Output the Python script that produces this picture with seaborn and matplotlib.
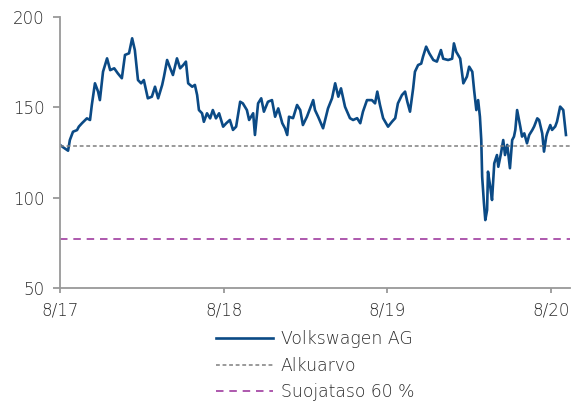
import numpy as np
import pandas as pd
import matplotlib
matplotlib.use("Agg")
import matplotlib.pyplot as plt
import seaborn as sns

# ---- data ----
start_date = "2017-08-01"
day_offsets = [0, 7, 18, 22, 29, 38, 42, 49, 60, 67, 71, 78, 85, 89, 96, 105, 112, 121, 129, 138,
               145, 154, 161, 167, 174, 181, 187, 196, 205, 212, 219, 228, 232, 239, 246, 252, 261, 268, 275, 281,
               286, 295, 301, 306, 310, 317, 321, 328, 335, 341, 348, 355, 364, 371, 379, 386, 393, 402, 408, 417,
               422, 431, 435, 442, 449, 455, 464, 473, 480, 487, 496, 502, 507, 511, 520, 529, 536, 542, 551, 565,
               569, 576, 587, 598, 607, 614, 621, 627, 636, 647, 654, 663, 670, 676, 685, 696, 703, 708, 714, 721,
               732, 741, 748, 754, 763, 770, 775, 781, 788, 792, 799, 806, 810, 817, 824, 833, 841, 850, 855, 866,
               875, 879, 884, 893, 900, 908, 913, 920, 924, 929, 933, 937, 940, 942, 946, 949, 953, 955, 960, 964,
               969, 975, 978, 984, 989, 993, 998, 1004, 1009, 1013, 1016, 1020, 1027, 1031, 1036, 1042, 1047, 1054,
               1058, 1065, 1069, 1076, 1080, 1085, 1087, 1094, 1098, 1105, 1109, 1116, 1123, 1129, 1134]
vw_values = [129.2, 127.9, 126.0, 131.9, 136.5, 137.4, 139.3, 141.2, 143.9, 143.0,
             151.3, 163.3, 158.7, 154.0, 169.7, 177.1, 170.6, 171.6, 168.8, 166.1,
             179.0, 179.9, 188.2, 181.7, 165.1, 163.3, 165.1, 155.0, 155.9, 161.4,
             155.0, 162.4, 167.0, 176.2, 171.6, 167.9, 177.1, 171.6, 173.4, 175.3,
             163.3, 161.4, 162.4, 156.8, 148.5, 146.7, 142.0, 146.7, 143.9, 148.5,
             143.9, 146.7, 139.3, 141.2, 143.0, 137.5, 139.3, 153.1, 152.2, 148.5,
             143.0, 146.7, 134.7, 152.2, 155.0, 147.6, 153.1, 154.0, 144.8, 149.4,
             141.2, 138.4, 134.7, 144.8, 144.0, 151.3, 148.5, 140.2, 144.8, 154.0,
             148.5, 144.8, 138.4, 149.4, 155.0, 163.3, 155.9, 160.5, 150.3, 144.0,
             143.0, 144.0, 141.2, 147.6, 154.0, 154.0, 152.2, 158.7, 151.3, 144.0,
             139.3, 142.1, 144.0, 152.2, 156.8, 158.7, 153.1, 147.6, 160.5, 169.7,
             173.4, 174.2, 178.0, 183.6, 179.9, 176.2, 175.3, 181.7, 176.9, 176.2,
             176.9, 185.4, 180.8, 177.0, 163.3, 167.0, 172.5, 169.7, 159.6, 148.5,
             154.0, 144.8, 131.9, 111.6, 96.9, 87.6, 93.2, 114.4, 106.1, 98.7,
             119.0, 123.6, 117.1, 124.5, 131.9, 123.6, 129.2, 116.3, 131.9, 133.8,
             137.5, 148.5, 139.4, 133.8, 135.6, 130.1, 134.7, 137.5, 139.4, 143.9,
             143.0, 135.6, 125.5, 133.8, 135.6, 140.2, 137.5, 139.4, 142.1, 150.4,
             148.5, 134.7]
alkuarvo = 128.8
suojataso_pct = 0.60
tick_dates = ["2017-08-01", "2018-08-01", "2019-08-01", "2020-08-01"]
tick_labels = ["8/17", "8/18", "8/19", "8/20"]
y_ticks = [50, 100, 150, 200]
series_names = ["Volkswagen AG", "Alkuarvo", "Suojataso 60 %"]

n = min(len(day_offsets), len(vw_values))
df = pd.DataFrame({
    "date": pd.Timestamp(start_date) + pd.to_timedelta(day_offsets[:n], unit="D"),
    "value": vw_values[:n],
})

plt.rcParams["font.family"] = ["DejaVu Sans"]
plt.rcParams["font.weight"] = "light"

fig = plt.figure(figsize=(5.77, 4.03), dpi=100)
ax = fig.add_axes([60 / 577, 1 - 288 / 403, 510 / 577, 271 / 403])

main_color = "#0b4a85"
sns.lineplot(data=df, x="date", y="value", ax=ax, color=main_color, linewidth=1.9,
             label=series_names[0])
ax.axhline(alkuarvo, color="#7f7f7f", linewidth=1.1, linestyle=(0, (2.5, 1.8)),
           label=series_names[1])
ax.axhline(alkuarvo * suojataso_pct, color="#a03ca0", linewidth=1.2, linestyle=(0, (4.5, 3.5)),
           label=series_names[2])

ax.set_ylim(50, 200)
ax.set_xlim(pd.Timestamp(start_date), pd.Timestamp(start_date) + pd.Timedelta(days=1138))
ax.set_yticks(y_ticks)
ax.set_xticks([pd.Timestamp(d) for d in tick_dates])
ax.set_xticklabels(tick_labels)
ax.set_xlabel("")
ax.set_ylabel("")

for s in ["top", "right"]:
    ax.spines[s].set_visible(False)
for s in ["left", "bottom"]:
    ax.spines[s].set_color("#999999")
    ax.spines[s].set_linewidth(1.3)
ax.tick_params(axis="both", colors="#999999", labelcolor="#2b2b2b", labelsize=12,
               width=1.3)
ax.tick_params(axis="x", length=3.8, pad=6)
ax.tick_params(axis="y", length=5, pad=6)

leg = ax.legend(loc="upper left", bbox_to_anchor=(216 / 577, 1 - 330 / 403),
                bbox_transform=fig.transFigure, frameon=False, fontsize=12.4,
                handlelength=3.3, handletextpad=0.45, labelspacing=0.5, borderpad=0,
                borderaxespad=0)
for t in leg.get_texts():
    t.set_color("#2b2b2b")

fig.savefig("out.png", dpi=100)
